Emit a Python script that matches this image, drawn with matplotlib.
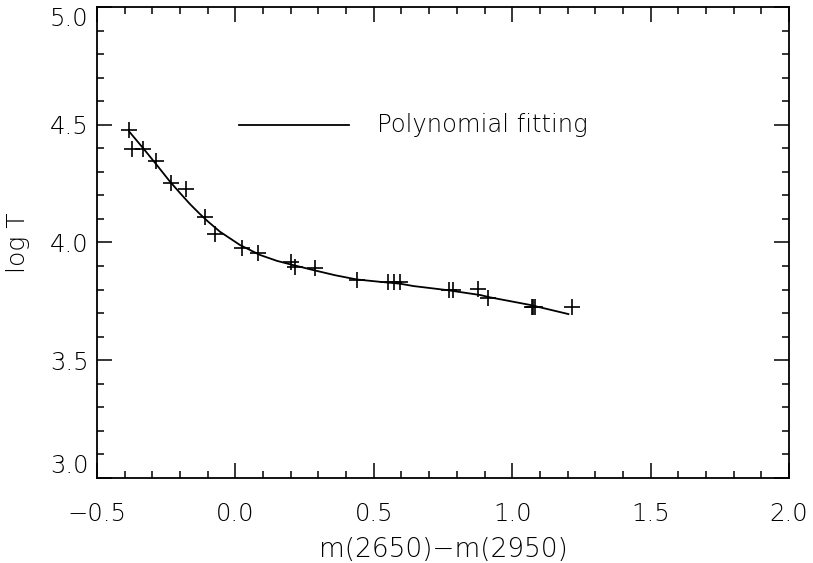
import matplotlib
matplotlib.use("Agg")
import matplotlib.pyplot as plt
from matplotlib.ticker import MultipleLocator, FuncFormatter

plt.rcParams['font.family'] = ['DejaVu Sans']
plt.rcParams['font.weight'] = 'light'
plt.rcParams['axes.labelweight'] = 'light'

# data points (crosses)
x_pts = [-0.383, -0.372, -0.333, -0.287, -0.234, -0.178, -0.110, -0.074,
         0.023, 0.083, 0.201, 0.215, 0.288, 0.438, 0.552, 0.574, 0.595,
         0.772, 0.787, 0.878, 0.914, 1.070, 1.076, 1.083, 1.217]
y_pts = [4.478, 4.395, 4.395, 4.347, 4.251, 4.226, 4.110, 4.035,
         3.976, 3.954, 3.918, 3.897, 3.890, 3.841, 3.832, 3.832, 3.832,
         3.800, 3.800, 3.803, 3.766, 3.727, 3.727, 3.727, 3.727]

# polynomial fit curve
x_fit = [-0.383, -0.333, -0.284, -0.236, -0.200, -0.164, -0.130, -0.100,
         -0.056, 0.017, 0.089, 0.150, 0.209, 0.281, 0.360, 0.438, 0.522,
         0.595, 0.643, 0.763, 0.884, 0.920, 1.064, 1.203]
y_fit = [4.470, 4.400, 4.329, 4.258, 4.210, 4.163, 4.123, 4.090,
         4.046, 3.989, 3.947, 3.922, 3.904, 3.883, 3.861, 3.843, 3.833,
         3.825, 3.815, 3.798, 3.777, 3.767, 3.735, 3.696]

legend_label = "Polynomial fitting"
x_label = "m(2650)\u2212m(2950)"
y_label = "log T"

fig = plt.figure(figsize=(8.13, 5.63), dpi=100)
ax = fig.add_axes([0.1193, 0.151, 0.8512, 0.8366])

ax.plot(x_fit, y_fit, color='black', lw=1.3)
ax.plot(x_pts, y_pts, linestyle='none', marker='+', markersize=11,
        markeredgewidth=1.2, color='black')

# legend drawn in data space like the original
ax.plot([0.013, 0.41], [4.5, 4.5], color='black', lw=1.3)
ax.text(0.511, 4.5, legend_label, fontsize=17.5, va='center', ha='left',
        fontweight='light')

ax.set_xlim(-0.5, 2.0)
ax.set_ylim(3.0, 5.0)
ax.xaxis.set_major_locator(MultipleLocator(0.5))
ax.xaxis.set_minor_locator(MultipleLocator(0.1))
ax.yaxis.set_major_locator(MultipleLocator(0.5))
ax.yaxis.set_minor_locator(MultipleLocator(0.1))
fmt = FuncFormatter(lambda v, p: ('%.1f' % v).replace('-', '\u2212'))
ax.xaxis.set_major_formatter(fmt)
ax.yaxis.set_major_formatter(fmt)

ax.tick_params(which='both', direction='in', top=True, right=True, width=1.1)
ax.tick_params(which='major', length=11, labelsize=17.5)
ax.tick_params(which='minor', length=5)
ax.tick_params(axis='x', which='major', pad=17)
ax.tick_params(axis='y', which='major', pad=6)
for s in ax.spines.values():
    s.set_linewidth(1.3)

fig.canvas.draw()
for lab in ax.get_yticklabels():
    if lab.get_text() == '3.0':
        lab.set_va('bottom')
    elif lab.get_text() == '5.0':
        lab.set_va('top')

ax.set_xlabel(x_label, fontsize=19, labelpad=8, fontweight='light')
ax.set_ylabel(y_label, fontsize=18, labelpad=14, fontweight='light')

fig.savefig("out.png", dpi=100)
